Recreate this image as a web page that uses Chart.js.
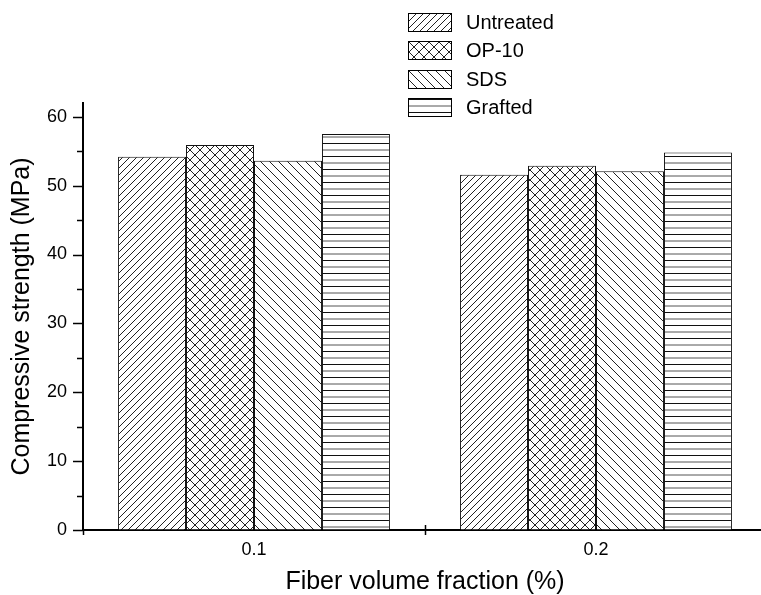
<!DOCTYPE html>
<html>
<head>
<meta charset="utf-8">
<script src="https://cdn.jsdelivr.net/npm/chart.js@4"></script>
<style>
  html, body { margin: 0; padding: 0; background: #fff; overflow: hidden; }
  #wrap { position: absolute; left: 0; top: 0; width: 767px; height: 595px; }
  #legend { position: absolute; left: 408px; top: 8px; font-family: "Liberation Sans", Arial, sans-serif; font-size: 20px; color: #000; }
  .item { display: flex; align-items: center; height: 28.5px; }
  .item canvas { border: 1px solid #000; width: 44px; height: 19px; margin-right: 14px; box-sizing: border-box; }
</style>
</head>
<body>
<div id="wrap"><canvas id="chart" width="767" height="595"></canvas></div>
<div id="legend"></div>
<script>
const categories = ['0.1', '0.2'];
const seriesNames = ['Untreated', 'OP-10', 'SDS', 'Grafted'];
const untreated = [54.2, 51.6];
const op10 = [55.9, 52.9];
const sds = [53.6, 52.1];
const grafted = [57.5, 54.8];
const yTicks = [0, 10, 20, 30, 40, 50, 60];
const yMinorTicks = [5, 15, 25, 35, 45, 55];

const FONT = '"Liberation Sans", Arial, sans-serif';

// hatch patterns
function makePattern(kind) {
    const c = document.createElement('canvas');
    const ctx = c.getContext('2d');
    let p;
    if (kind === 'fwd') p = 7;
    else if (kind === 'cross') p = 10;
    else if (kind === 'back') p = 9;
    else p = 13;
    c.width = p; c.height = p;
    ctx.fillStyle = '#fff';
    ctx.fillRect(0, 0, p, p);
    ctx.strokeStyle = '#222';
    ctx.lineWidth = 1;
    const fwd = () => {
        ctx.beginPath();
        ctx.moveTo(-1, p + 1); ctx.lineTo(p + 1, -1);
        ctx.moveTo(-1, 1); ctx.lineTo(1, -1);
        ctx.moveTo(p - 1, p + 1); ctx.lineTo(p + 1, p - 1);
        ctx.stroke();
    };
    const back = () => {
        ctx.beginPath();
        ctx.moveTo(-1, -1); ctx.lineTo(p + 1, p + 1);
        ctx.moveTo(p - 1, -1); ctx.lineTo(p + 1, 1);
        ctx.moveTo(-1, p - 1); ctx.lineTo(1, p + 1);
        ctx.stroke();
    };
    if (kind === 'fwd') fwd();
    else if (kind === 'back') back();
    else if (kind === 'cross') { fwd(); back(); }
    else {
        ctx.strokeStyle = '#111';
        ctx.beginPath(); ctx.moveTo(0, 0.5); ctx.lineTo(p, 0.5); ctx.stroke();
        ctx.strokeStyle = '#555';
        ctx.beginPath(); ctx.moveTo(0, 7); ctx.lineTo(p, 7); ctx.stroke();
    }
    return c;
}

const mainCtx = document.getElementById('chart').getContext('2d');
const kinds = ['fwd', 'cross', 'back', 'horiz'];
const tiles = kinds.map(makePattern);
const patterns = tiles.map(t => mainCtx.createPattern(t, 'repeat'));
const values = [untreated, op10, sds, grafted];

// axis tick marks drawn from the scales
const tickMarks = {
    id: 'tickMarks',
    afterDraw(chart) {
        const ctx = chart.ctx;
        const area = chart.chartArea;
        const y = chart.scales.y;
        const x = chart.scales.x;
        ctx.save();
        ctx.strokeStyle = '#000';
        ctx.lineWidth = 1.5;
        y.ticks.forEach(t => {
            const py = Math.round(y.getPixelForValue(t.value)) + 0.5;
            const len = yTicks.includes(t.value) ? 10 : 6;
            ctx.beginPath();
            ctx.moveTo(area.left - len, py);
            ctx.lineTo(area.left, py);
            ctx.stroke();
        });
        for (let i = 0; i <= categories.length; i++) {
            const px = Math.round(x.getPixelForValue(i - 0.5)) + 0.5;
            ctx.beginPath();
            ctx.moveTo(px, area.bottom + 5);
            ctx.lineTo(px, i === 0 ? area.bottom : area.bottom - 5);
            ctx.stroke();
        }
        ctx.restore();
    }
};

new Chart(mainCtx, {
    type: 'bar',
    data: {
        labels: categories,
        datasets: seriesNames.map((name, i) => ({
            label: name,
            data: values[i],
            backgroundColor: patterns[i],
            borderColor: '#111',
            borderWidth: 1,
            categoryPercentage: 0.795,
            barPercentage: 1
        }))
    },
    options: {
        responsive: false,
        animation: false,
        devicePixelRatio: 1,
        layout: { padding: { top: 103, left: 0, right: 0, bottom: 0 } },
        plugins: { legend: { display: false }, tooltip: { enabled: false } },
        scales: {
            x: {
                grid: { display: true, drawOnChartArea: false, drawTicks: false },
                border: { display: true, color: '#000', width: 2 },
                ticks: { color: '#000', padding: 9, font: { family: FONT, size: 18 } },
                title: { display: true, text: 'Fiber volume fraction (%)', color: '#000',
                         font: { family: FONT, size: 25, lineHeight: 1 }, padding: { top: 0, bottom: 0 } },
                afterFit(s) { s.height = 65; }
            },
            y: {
                min: 0,
                max: 62,
                grid: { display: true, drawOnChartArea: false, drawTicks: false },
                border: { display: true, color: '#000', width: 2 },
                ticks: {
                    color: '#000',
                    padding: 16,
                    font: { family: FONT, size: 18 },
                    callback: v => yTicks.includes(v) ? v : ''
                },
                afterBuildTicks(s) {
                    s.ticks = yTicks.concat(yMinorTicks).sort((a, b) => a - b).map(v => ({ value: v }));
                },
                title: { display: true, text: 'Compressive strength (MPa)', color: '#000',
                         font: { family: FONT, size: 25, lineHeight: 1 }, padding: { top: 10, bottom: 0 } },
                afterFit(s) { s.width = 83; }
            }
        }
    },
    plugins: [tickMarks]
});

// legend
const legend = document.getElementById('legend');
seriesNames.forEach((name, i) => {
    const row = document.createElement('div');
    row.className = 'item';
    const sw = document.createElement('canvas');
    sw.width = 42; sw.height = 17;
    const sctx = sw.getContext('2d');
    sctx.fillStyle = sctx.createPattern(tiles[i], 'repeat');
    sctx.fillRect(0, 0, sw.width, sw.height);
    row.appendChild(sw);
    const label = document.createElement('span');
    label.textContent = name;
    row.appendChild(label);
    legend.appendChild(row);
});
</script>
</body>
</html>
